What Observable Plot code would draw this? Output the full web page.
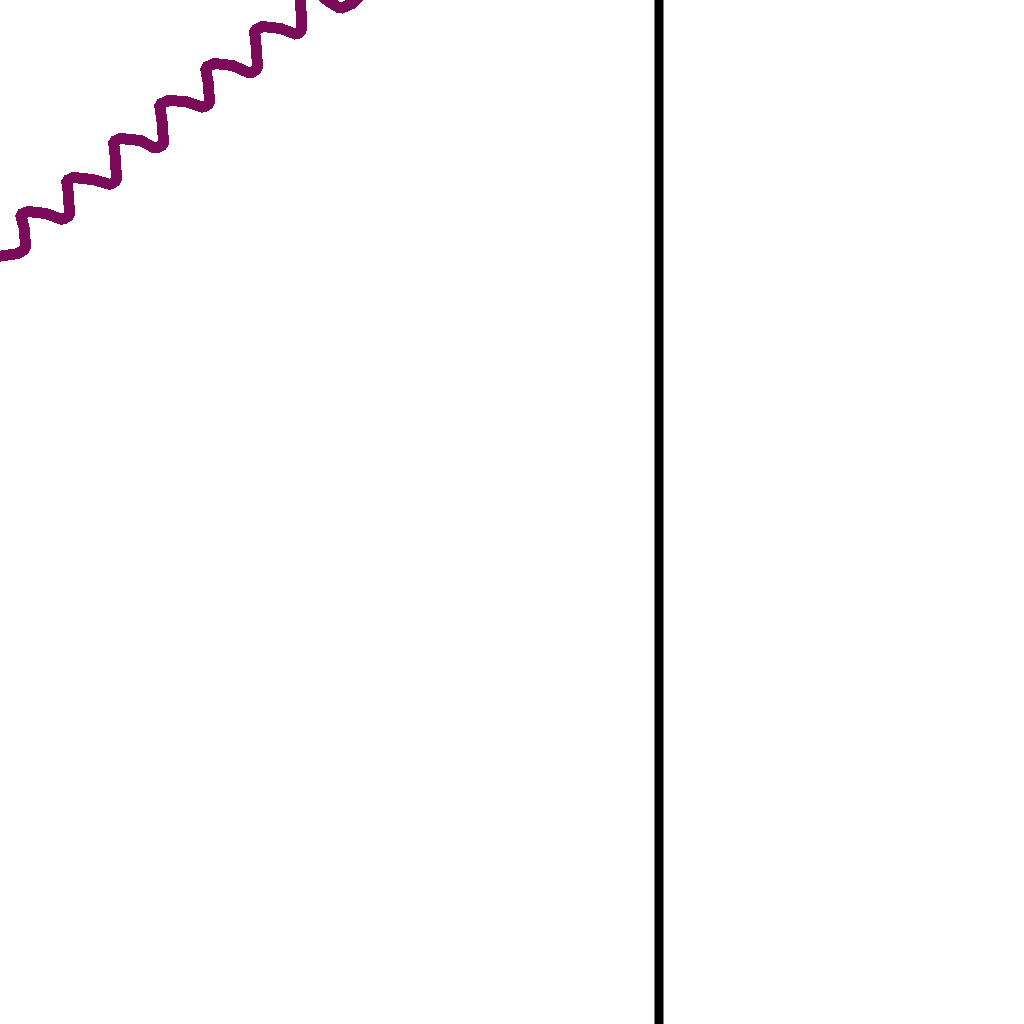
<!DOCTYPE html>
<html>
<head>
<meta charset="utf-8">
<script src="https://cdn.jsdelivr.net/npm/d3@7"></script>
<script src="https://cdn.jsdelivr.net/npm/@observablehq/plot@0.6"></script>
<style>
  html, body { margin: 0; padding: 0; background: #fff; overflow: hidden; }
  svg { display: block; }
</style>
</head>
<body>
<div id="chart"></div>
<script>
// Series values (arbitrary units)
const xs = [-10, 18, 25, 24, 20, 28, 45, 62, 69, 68, 66, 73, 92, 110, 116, 115, 113, 120, 140, 155, 163, 162, 159, 168, 185, 203, 209, 208, 205, 214, 232, 250, 257, 256, 254, 262, 280, 296, 301, 300, 303, 315, 328, 340, 352, 365];
const ys = [767, 771, 776, 795, 810, 813, 811, 805, 809, 830, 844, 847, 845, 840, 844, 865, 883, 886, 884, 876, 880, 900, 920, 924, 923, 917, 921, 940, 957, 961, 959, 951, 956, 975, 994, 998, 996, 990, 994, 1034, 1038, 1034, 1023, 1016, 1021, 1034];
// Reference line position
const markerX = [658.5];

const data = xs.map((x, i) => ({x, y: ys[i]}));

const chart = Plot.plot({
  width: 1024,
  height: 1024,
  margin: 0,
  x: {domain: [0, 1024], axis: null},
  y: {domain: [0, 1024], axis: null},
  marks: [
    Plot.ruleX(markerX, {stroke: "black", strokeWidth: 9}),
    Plot.line(data, {x: "x", y: "y", stroke: "#7b0a5a", strokeWidth: 11, strokeLinejoin: "miter", strokeLinecap: "butt", shapeRendering: "crispEdges"})
  ]
});
document.getElementById("chart").appendChild(chart);
</script>
</body>
</html>
